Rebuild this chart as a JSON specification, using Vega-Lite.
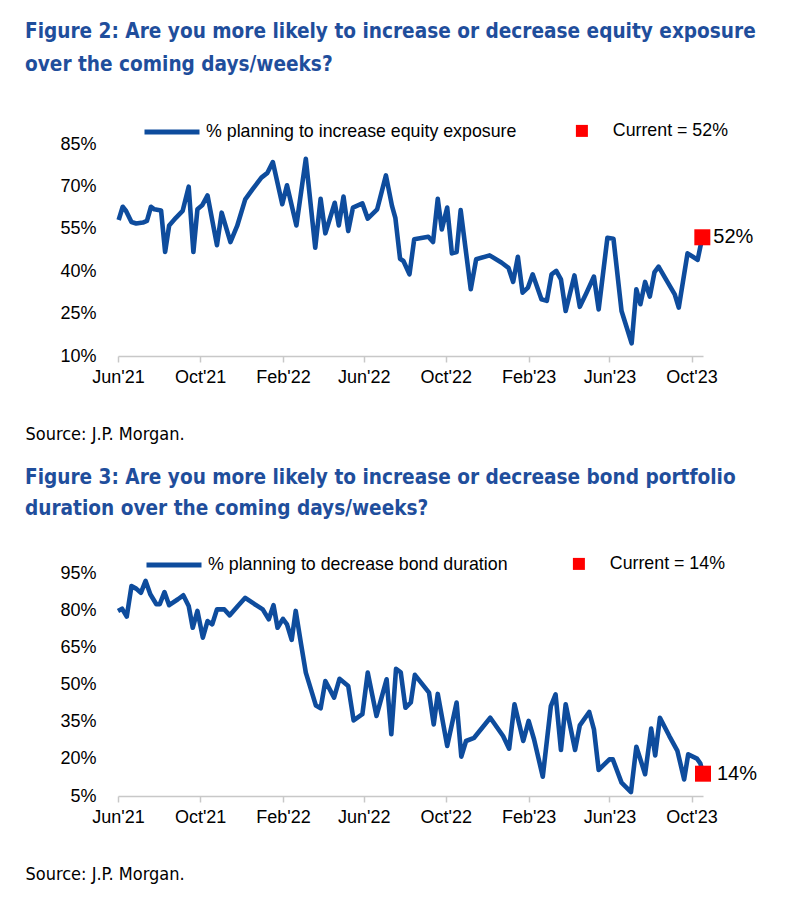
{
  "$schema": "https://vega.github.io/schema/vega-lite/v6.json",
  "background": "white",
  "padding": {"left": 25, "top": 22, "right": 5, "bottom": 5},
  "spacing": 25,
  "config": {
    "font": "Liberation Sans",
    "view": {"stroke": null},
    "axis": {"grid": false, "labelColor": "#000000", "labelFont": "Liberation Sans"}
  },
  "resolve": {
    "scale": {"color": "independent", "stroke": "independent", "x": "independent", "y": "independent"},
    "legend": {"color": "independent", "stroke": "independent"}
  },
  "datasets": {
    "equity": [
      {"date": "2021-06-02", "value": 58.1}, {"date": "2021-06-08", "value": 62.8}, {"date": "2021-06-13", "value": 61.3},
      {"date": "2021-06-21", "value": 57.4}, {"date": "2021-06-28", "value": 56.9}, {"date": "2021-07-08", "value": 57.2},
      {"date": "2021-07-14", "value": 57.8}, {"date": "2021-07-20", "value": 62.8}, {"date": "2021-07-25", "value": 61.9},
      {"date": "2021-08-04", "value": 61.5}, {"date": "2021-08-10", "value": 46.8}, {"date": "2021-08-16", "value": 56.2},
      {"date": "2021-08-26", "value": 58.9}, {"date": "2021-09-05", "value": 61.3}, {"date": "2021-09-14", "value": 69.9},
      {"date": "2021-09-21", "value": 46.8}, {"date": "2021-09-27", "value": 61.9}, {"date": "2021-10-04", "value": 63.3},
      {"date": "2021-10-12", "value": 66.8}, {"date": "2021-10-26", "value": 49.2}, {"date": "2021-11-02", "value": 60.7},
      {"date": "2021-11-15", "value": 50.3}, {"date": "2021-11-25", "value": 56.0}, {"date": "2021-12-07", "value": 65.4},
      {"date": "2021-12-18", "value": 69.0}, {"date": "2021-12-31", "value": 73.1}, {"date": "2022-01-09", "value": 74.8},
      {"date": "2022-01-17", "value": 78.6}, {"date": "2022-01-31", "value": 63.7}, {"date": "2022-02-07", "value": 70.4},
      {"date": "2022-02-21", "value": 56.2}, {"date": "2022-03-07", "value": 79.8}, {"date": "2022-03-21", "value": 48.3},
      {"date": "2022-03-29", "value": 65.6}, {"date": "2022-04-05", "value": 53.4}, {"date": "2022-04-19", "value": 64.2},
      {"date": "2022-04-25", "value": 56.2}, {"date": "2022-05-02", "value": 66.4}, {"date": "2022-05-09", "value": 54.2},
      {"date": "2022-05-16", "value": 62.5}, {"date": "2022-05-30", "value": 64.0}, {"date": "2022-06-07", "value": 58.6},
      {"date": "2022-06-21", "value": 61.9}, {"date": "2022-07-04", "value": 73.9}, {"date": "2022-07-13", "value": 63.1},
      {"date": "2022-07-18", "value": 58.9}, {"date": "2022-07-25", "value": 44.4}, {"date": "2022-07-30", "value": 43.6},
      {"date": "2022-08-08", "value": 38.9}, {"date": "2022-08-15", "value": 51.3}, {"date": "2022-09-05", "value": 52.2},
      {"date": "2022-09-12", "value": 50.3}, {"date": "2022-09-19", "value": 65.6}, {"date": "2022-09-25", "value": 54.8},
      {"date": "2022-10-03", "value": 62.5}, {"date": "2022-10-10", "value": 46.3}, {"date": "2022-10-17", "value": 46.8},
      {"date": "2022-10-23", "value": 61.6}, {"date": "2022-11-07", "value": 33.6}, {"date": "2022-11-15", "value": 44.2},
      {"date": "2022-12-05", "value": 45.6}, {"date": "2022-12-23", "value": 43.0}, {"date": "2023-01-02", "value": 41.2},
      {"date": "2023-01-09", "value": 36.2}, {"date": "2023-01-16", "value": 45.1}, {"date": "2023-01-23", "value": 32.4},
      {"date": "2023-01-31", "value": 34.2}, {"date": "2023-02-07", "value": 38.9}, {"date": "2023-02-20", "value": 30.1},
      {"date": "2023-02-28", "value": 29.5}, {"date": "2023-03-07", "value": 38.9}, {"date": "2023-03-14", "value": 40.1},
      {"date": "2023-03-21", "value": 37.1}, {"date": "2023-03-28", "value": 25.9}, {"date": "2023-04-10", "value": 38.5},
      {"date": "2023-04-18", "value": 27.4}, {"date": "2023-04-28", "value": 32.4}, {"date": "2023-05-09", "value": 38.1},
      {"date": "2023-05-16", "value": 26.5}, {"date": "2023-05-29", "value": 51.8}, {"date": "2023-06-07", "value": 51.5},
      {"date": "2023-06-19", "value": 25.9}, {"date": "2023-06-26", "value": 20.6}, {"date": "2023-07-04", "value": 14.5},
      {"date": "2023-07-11", "value": 33.6}, {"date": "2023-07-17", "value": 28.3}, {"date": "2023-07-24", "value": 36.2},
      {"date": "2023-07-31", "value": 31.0}, {"date": "2023-08-07", "value": 39.7}, {"date": "2023-08-13", "value": 41.6},
      {"date": "2023-08-24", "value": 37.1}, {"date": "2023-09-06", "value": 31.8}, {"date": "2023-09-12", "value": 27.1},
      {"date": "2023-09-25", "value": 46.3}, {"date": "2023-10-03", "value": 45.1}, {"date": "2023-10-10", "value": 44.0},
      {"date": "2023-10-17", "value": 52.0}
    ],
    "equityCurrent": [
      {"date": "2023-10-17", "value": 52, "label": "52%"}
    ],
    "bond": [
      {"date": "2021-06-01", "value": 79.7}, {"date": "2021-06-07", "value": 80.6}, {"date": "2021-06-14", "value": 77.4},
      {"date": "2021-06-21", "value": 89.7}, {"date": "2021-06-28", "value": 88.7}, {"date": "2021-07-05", "value": 87.0},
      {"date": "2021-07-12", "value": 91.8}, {"date": "2021-07-19", "value": 86.4}, {"date": "2021-07-28", "value": 82.4},
      {"date": "2021-08-02", "value": 82.4}, {"date": "2021-08-09", "value": 87.3}, {"date": "2021-08-16", "value": 82.0},
      {"date": "2021-08-29", "value": 84.4}, {"date": "2021-09-06", "value": 86.0}, {"date": "2021-09-14", "value": 81.7},
      {"date": "2021-09-20", "value": 72.9}, {"date": "2021-09-27", "value": 79.7}, {"date": "2021-10-05", "value": 68.9},
      {"date": "2021-10-12", "value": 75.6}, {"date": "2021-10-19", "value": 74.3}, {"date": "2021-10-26", "value": 80.3},
      {"date": "2021-11-06", "value": 80.3}, {"date": "2021-11-14", "value": 77.9}, {"date": "2021-11-26", "value": 81.7},
      {"date": "2021-12-07", "value": 85.0}, {"date": "2021-12-21", "value": 82.4}, {"date": "2022-01-02", "value": 80.3},
      {"date": "2022-01-11", "value": 76.3}, {"date": "2022-01-18", "value": 82.0}, {"date": "2022-01-24", "value": 72.9},
      {"date": "2022-02-01", "value": 76.5}, {"date": "2022-02-07", "value": 74.3}, {"date": "2022-02-14", "value": 68.0},
      {"date": "2022-02-20", "value": 79.7}, {"date": "2022-02-28", "value": 66.2}, {"date": "2022-03-07", "value": 54.8},
      {"date": "2022-03-22", "value": 41.5}, {"date": "2022-03-29", "value": 40.4}, {"date": "2022-04-05", "value": 51.4},
      {"date": "2022-04-18", "value": 44.7}, {"date": "2022-04-26", "value": 52.3}, {"date": "2022-05-09", "value": 49.4},
      {"date": "2022-05-17", "value": 35.5}, {"date": "2022-05-30", "value": 38.0}, {"date": "2022-06-07", "value": 54.8},
      {"date": "2022-06-20", "value": 37.3}, {"date": "2022-07-05", "value": 52.1}, {"date": "2022-07-12", "value": 29.9},
      {"date": "2022-07-19", "value": 56.3}, {"date": "2022-07-26", "value": 54.9}, {"date": "2022-08-02", "value": 40.6},
      {"date": "2022-08-10", "value": 42.8}, {"date": "2022-08-16", "value": 53.9}, {"date": "2022-09-06", "value": 46.7},
      {"date": "2022-09-13", "value": 33.9}, {"date": "2022-09-19", "value": 46.2}, {"date": "2022-10-03", "value": 25.2},
      {"date": "2022-10-17", "value": 42.7}, {"date": "2022-10-24", "value": 20.9}, {"date": "2022-10-31", "value": 27.2},
      {"date": "2022-11-12", "value": 28.5}, {"date": "2022-12-06", "value": 36.6}, {"date": "2022-12-25", "value": 29.2},
      {"date": "2023-01-03", "value": 24.1}, {"date": "2023-01-11", "value": 42.0}, {"date": "2023-01-24", "value": 27.2},
      {"date": "2023-02-01", "value": 35.3}, {"date": "2023-02-09", "value": 27.9}, {"date": "2023-02-22", "value": 12.8},
      {"date": "2023-03-06", "value": 41.3}, {"date": "2023-03-13", "value": 46.0}, {"date": "2023-03-21", "value": 23.6},
      {"date": "2023-03-28", "value": 42.0}, {"date": "2023-04-11", "value": 23.6}, {"date": "2023-04-18", "value": 33.5},
      {"date": "2023-05-02", "value": 38.9}, {"date": "2023-05-09", "value": 31.9}, {"date": "2023-05-16", "value": 15.5},
      {"date": "2023-06-01", "value": 19.8}, {"date": "2023-06-06", "value": 19.8}, {"date": "2023-06-19", "value": 10.4},
      {"date": "2023-07-03", "value": 6.6}, {"date": "2023-07-11", "value": 24.9}, {"date": "2023-07-24", "value": 13.8},
      {"date": "2023-08-02", "value": 32.2}, {"date": "2023-08-08", "value": 21.4}, {"date": "2023-08-15", "value": 36.6},
      {"date": "2023-08-29", "value": 29.2}, {"date": "2023-09-10", "value": 23.2}, {"date": "2023-09-20", "value": 11.7},
      {"date": "2023-09-26", "value": 21.8}, {"date": "2023-10-09", "value": 20.1}, {"date": "2023-10-14", "value": 18.2},
      {"date": "2023-10-18", "value": 14.0}
    ],
    "bondCurrent": [
      {"date": "2023-10-18", "value": 14, "label": "14%"}
    ]
  },
  "vconcat": [
    {
      "width": 585,
      "height": 212,
      "title": {
        "text": ["Figure 2: Are you more likely to increase or decrease equity exposure", "over the coming days/weeks?"],
        "anchor": "start", "frame": "group", "dx": -93, "offset": 26,
        "font": "DejaVu Sans Condensed, Liberation Sans", "fontSize": 20.6, "fontWeight": "bold", "color": "#1F4E9C", "lineHeight": 33
      },
      "layer": [
        {
          "data": {"name": "equity"},
          "mark": {"type": "line", "strokeWidth": 4.6, "strokeJoin": "round"},
          "encoding": {
            "x": {
              "field": "date", "type": "temporal",
              "scale": {"type": "utc", "domain": [{"year": 2021, "month": 6, "date": 1, "utc": true}, {"year": 2023, "month": 10, "date": 18, "utc": true}]},
              "axis": {
                "values": [
                  {"year": 2021, "month": 6, "date": 1, "utc": true}, {"year": 2021, "month": 10, "date": 1, "utc": true},
                  {"year": 2022, "month": 2, "date": 1, "utc": true}, {"year": 2022, "month": 6, "date": 1, "utc": true},
                  {"year": 2022, "month": 10, "date": 1, "utc": true}, {"year": 2023, "month": 2, "date": 1, "utc": true},
                  {"year": 2023, "month": 6, "date": 1, "utc": true}, {"year": 2023, "month": 10, "date": 1, "utc": true}
                ],
                "format": "%b'%y", "labelFontSize": 18, "labelPadding": 6, "labelFlush": false, "labelOverlap": false, "tickCount": 20,
                "domainColor": "#C8C8C8", "domainWidth": 1.5, "tickColor": "#C8C8C8", "tickWidth": 1.5, "tickSize": 6,
                "title": "Source: J.P. Morgan.", "titleAnchor": "start", "titleAlign": "left", "titleBaseline": "top",
                "titleX": -93, "titleY": 69, "titleFont": "DejaVu Sans Condensed, Liberation Sans", "titleFontSize": 18,
                "titleFontWeight": "normal", "titleColor": "#000000"
              }
            },
            "y": {
              "field": "value", "type": "quantitative",
              "scale": {"domain": [10, 85], "nice": false, "zero": false},
              "axis": {
                "values": [10, 25, 40, 55, 70, 85], "labelExpr": "datum.value + '%'", "labelOverlap": false, "tickCount": 12,
                "labelFontSize": 18, "domain": false, "ticks": false, "labelPadding": 22, "title": null
              }
            },
            "stroke": {
              "datum": "% planning to increase equity exposure",
              "scale": {"range": ["#0E4C9D"]},
              "legend": {
                "title": null, "orient": "none", "legendX": 24, "legendY": -42,
                "symbolType": "stroke", "symbolSize": 3025, "symbolStrokeWidth": 5,
                "labelFontSize": 17.8, "labelOffset": 4, "labelColor": "#000000", "labelLimit": 0
              }
            }
          }
        },
        {
          "data": {"name": "equityCurrent"},
          "mark": {"type": "point", "shape": "square", "filled": true, "opacity": 1, "size": 256},
          "encoding": {
            "x": {"field": "date", "type": "temporal"},
            "y": {"field": "value", "type": "quantitative"},
            "color": {
              "datum": "Current = 52%",
              "scale": {"range": ["#FF0000"]},
              "legend": {
                "title": null, "orient": "none", "legendX": 455, "legendY": -22,
                "symbolType": "square", "symbolSize": 144, "symbolOpacity": 1,
                "labelFontSize": 17.8, "labelOffset": 22, "labelColor": "#000000", "labelLimit": 0
              }
            }
          }
        },
        {
          "data": {"name": "equityCurrent"},
          "mark": {"type": "text", "align": "left", "baseline": "middle", "dx": 11, "fontSize": 20, "color": "#000000"},
          "encoding": {
            "x": {"field": "date", "type": "temporal"},
            "y": {"field": "value", "type": "quantitative"},
            "text": {"field": "label"}
          }
        }
      ]
    },
    {
      "width": 585,
      "height": 223,
      "title": {
        "text": ["Figure 3: Are you more likely to increase or decrease bond portfolio", "duration over the coming days/weeks?"],
        "anchor": "start", "frame": "group", "dx": -93, "offset": 15,
        "font": "DejaVu Sans Condensed, Liberation Sans", "fontSize": 20.6, "fontWeight": "bold", "color": "#1F4E9C", "lineHeight": 31
      },
      "layer": [
        {
          "data": {"name": "bond"},
          "mark": {"type": "line", "strokeWidth": 4.6, "strokeJoin": "round"},
          "encoding": {
            "x": {
              "field": "date", "type": "temporal",
              "scale": {"type": "utc", "domain": [{"year": 2021, "month": 6, "date": 1, "utc": true}, {"year": 2023, "month": 10, "date": 18, "utc": true}]},
              "axis": {
                "values": [
                  {"year": 2021, "month": 6, "date": 1, "utc": true}, {"year": 2021, "month": 10, "date": 1, "utc": true},
                  {"year": 2022, "month": 2, "date": 1, "utc": true}, {"year": 2022, "month": 6, "date": 1, "utc": true},
                  {"year": 2022, "month": 10, "date": 1, "utc": true}, {"year": 2023, "month": 2, "date": 1, "utc": true},
                  {"year": 2023, "month": 6, "date": 1, "utc": true}, {"year": 2023, "month": 10, "date": 1, "utc": true}
                ],
                "format": "%b'%y", "labelFontSize": 18, "labelPadding": 6, "labelFlush": false, "labelOverlap": false, "tickCount": 20,
                "domainColor": "#C8C8C8", "domainWidth": 1.5, "tickColor": "#C8C8C8", "tickWidth": 1.5, "tickSize": 6,
                "title": "Source: J.P. Morgan.", "titleAnchor": "start", "titleAlign": "left", "titleBaseline": "top",
                "titleX": -93, "titleY": 69, "titleFont": "DejaVu Sans Condensed, Liberation Sans", "titleFontSize": 18,
                "titleFontWeight": "normal", "titleColor": "#000000"
              }
            },
            "y": {
              "field": "value", "type": "quantitative",
              "scale": {"domain": [5, 95], "nice": false, "zero": false},
              "axis": {
                "values": [5, 20, 35, 50, 65, 80, 95], "labelExpr": "datum.value + '%'", "labelOverlap": false, "tickCount": 12,
                "labelFontSize": 18, "domain": false, "ticks": false, "labelPadding": 22, "title": null
              }
            },
            "stroke": {
              "datum": "% planning to decrease bond duration",
              "scale": {"range": ["#0E4C9D"]},
              "legend": {
                "title": null, "orient": "none", "legendX": 26, "legendY": -38,
                "symbolType": "stroke", "symbolSize": 3025, "symbolStrokeWidth": 5,
                "labelFontSize": 17.8, "labelOffset": 4, "labelColor": "#000000", "labelLimit": 0
              }
            }
          }
        },
        {
          "data": {"name": "bondCurrent"},
          "mark": {"type": "point", "shape": "square", "filled": true, "opacity": 1, "size": 256},
          "encoding": {
            "x": {"field": "date", "type": "temporal"},
            "y": {"field": "value", "type": "quantitative"},
            "color": {
              "datum": "Current = 14%",
              "scale": {"range": ["#FF0000"]},
              "legend": {
                "title": null, "orient": "none", "legendX": 452, "legendY": -18,
                "symbolType": "square", "symbolSize": 144, "symbolOpacity": 1,
                "labelFontSize": 17.8, "labelOffset": 22, "labelColor": "#000000", "labelLimit": 0
              }
            }
          }
        },
        {
          "data": {"name": "bondCurrent"},
          "mark": {"type": "text", "align": "left", "baseline": "middle", "dx": 14, "fontSize": 20, "color": "#000000"},
          "encoding": {
            "x": {"field": "date", "type": "temporal"},
            "y": {"field": "value", "type": "quantitative"},
            "text": {"field": "label"}
          }
        }
      ]
    }
  ]
}
